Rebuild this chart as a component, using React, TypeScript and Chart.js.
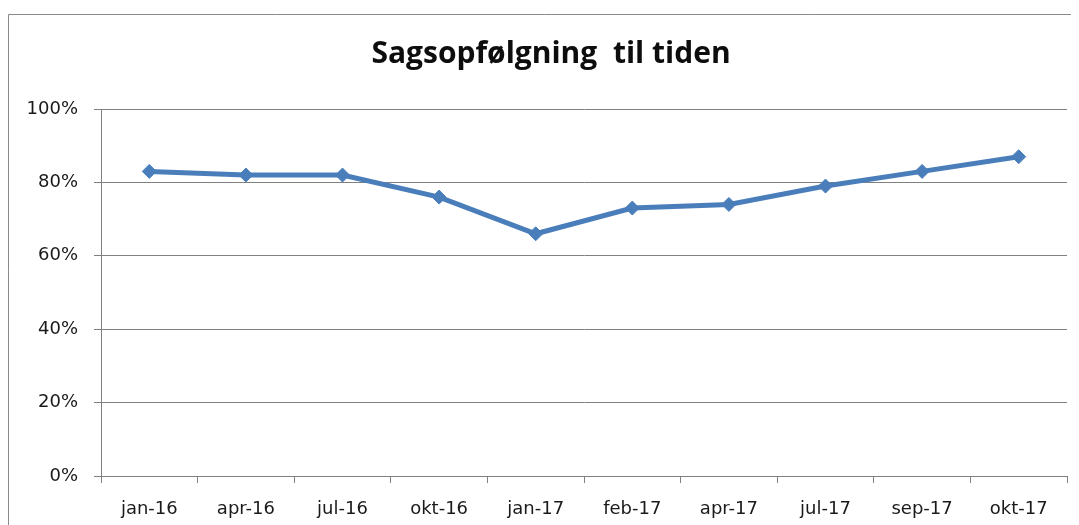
import React, { useEffect, useRef } from "react";
import { Chart, registerables } from "chart.js";

Chart.register(...registerables);

const categories = ["jan-16", "apr-16", "jul-16", "okt-16", "jan-17", "feb-17", "apr-17", "jul-17", "sep-17", "okt-17"];
const values = [83, 82, 82, 76, 66, 73, 74, 79, 83, 87];
const yTicks = [0, 20, 40, 60, 80, 100];
const titleText = "Sagsopfølgning  til tiden";

const chartFrame = {
  id: "chartFrame",
  beforeDraw(chart: any) {
    const ctx = chart.ctx;
    ctx.save();
    ctx.strokeStyle = "#8a8a8a";
    ctx.lineWidth = 1;
    ctx.beginPath();
    ctx.moveTo(0.5, chart.height + 10);
    ctx.lineTo(0.5, 6.5);
    ctx.lineTo(chart.width + 10, 6.5);
    ctx.stroke();
    ctx.restore();
  },
  afterDraw(chart: any) {
    const ctx = chart.ctx;
    ctx.save();
    ctx.fillStyle = "#0d0d0d";
    ctx.font = "bold 30px 'Open Sans'";
    ctx.textAlign = "center";
    ctx.textBaseline = "alphabetic";
    ctx.fillText(titleText, 543, 55);
    ctx.restore();
  },
};

export default function App() {
  const ref = useRef<HTMLCanvasElement>(null);
  useEffect(() => {
    document.documentElement.style.overflow = "hidden";
    if (!ref.current) return;
    const chart = new Chart(ref.current, {
      type: "line",
      data: {
        labels: categories,
        datasets: [
          {
            data: values,
            borderColor: "#4A7EBB",
            backgroundColor: "#4A7EBB",
            borderWidth: 5,
            pointStyle: "rectRot",
            pointRadius: 7,
            pointBorderWidth: 1,
            pointBackgroundColor: "#4A7EBB",
            pointBorderColor: "#4A7EBB",
            tension: 0,
          },
        ],
      },
      options: {
        animation: false,
        responsive: true,
        maintainAspectRatio: false,
        layout: { padding: { left: 0, top: 101, right: 12, bottom: 0 } },
        plugins: { legend: { display: false }, tooltip: { enabled: false }, title: { display: false } },
        scales: {
          x: {
            offset: true,
            grid: { offset: true, drawOnChartArea: false, drawTicks: true, tickLength: 7, color: "#808080" },
            border: { display: true, color: "#808080" },
            ticks: { color: "#1a1a1a", font: { family: "'DejaVu Sans'", size: 18 }, padding: 16, maxRotation: 0, autoSkip: false },
            afterFit(scale: any) {
              scale.height = 49;
            },
          },
          y: {
            min: 0,
            max: 100,
            afterBuildTicks(scale: any) {
              scale.ticks = yTicks.map((v) => ({ value: v }));
            },
            grid: { color: "#808080", drawTicks: true, tickLength: 7 },
            border: { display: true, color: "#808080" },
            ticks: {
              color: "#1a1a1a",
              font: { family: "'DejaVu Sans'", size: 18 },
              padding: 16,
              callback: (v: any) => v + "%",
            },
            afterFit(scale: any) {
              scale.width = 93;
            },
          },
        },
      },
      plugins: [chartFrame],
    });
    return () => chart.destroy();
  }, []);
  return (
    <div style={{ width: 1071, height: 517, position: "relative" }}>
      <canvas ref={ref} />
    </div>
  );
}
